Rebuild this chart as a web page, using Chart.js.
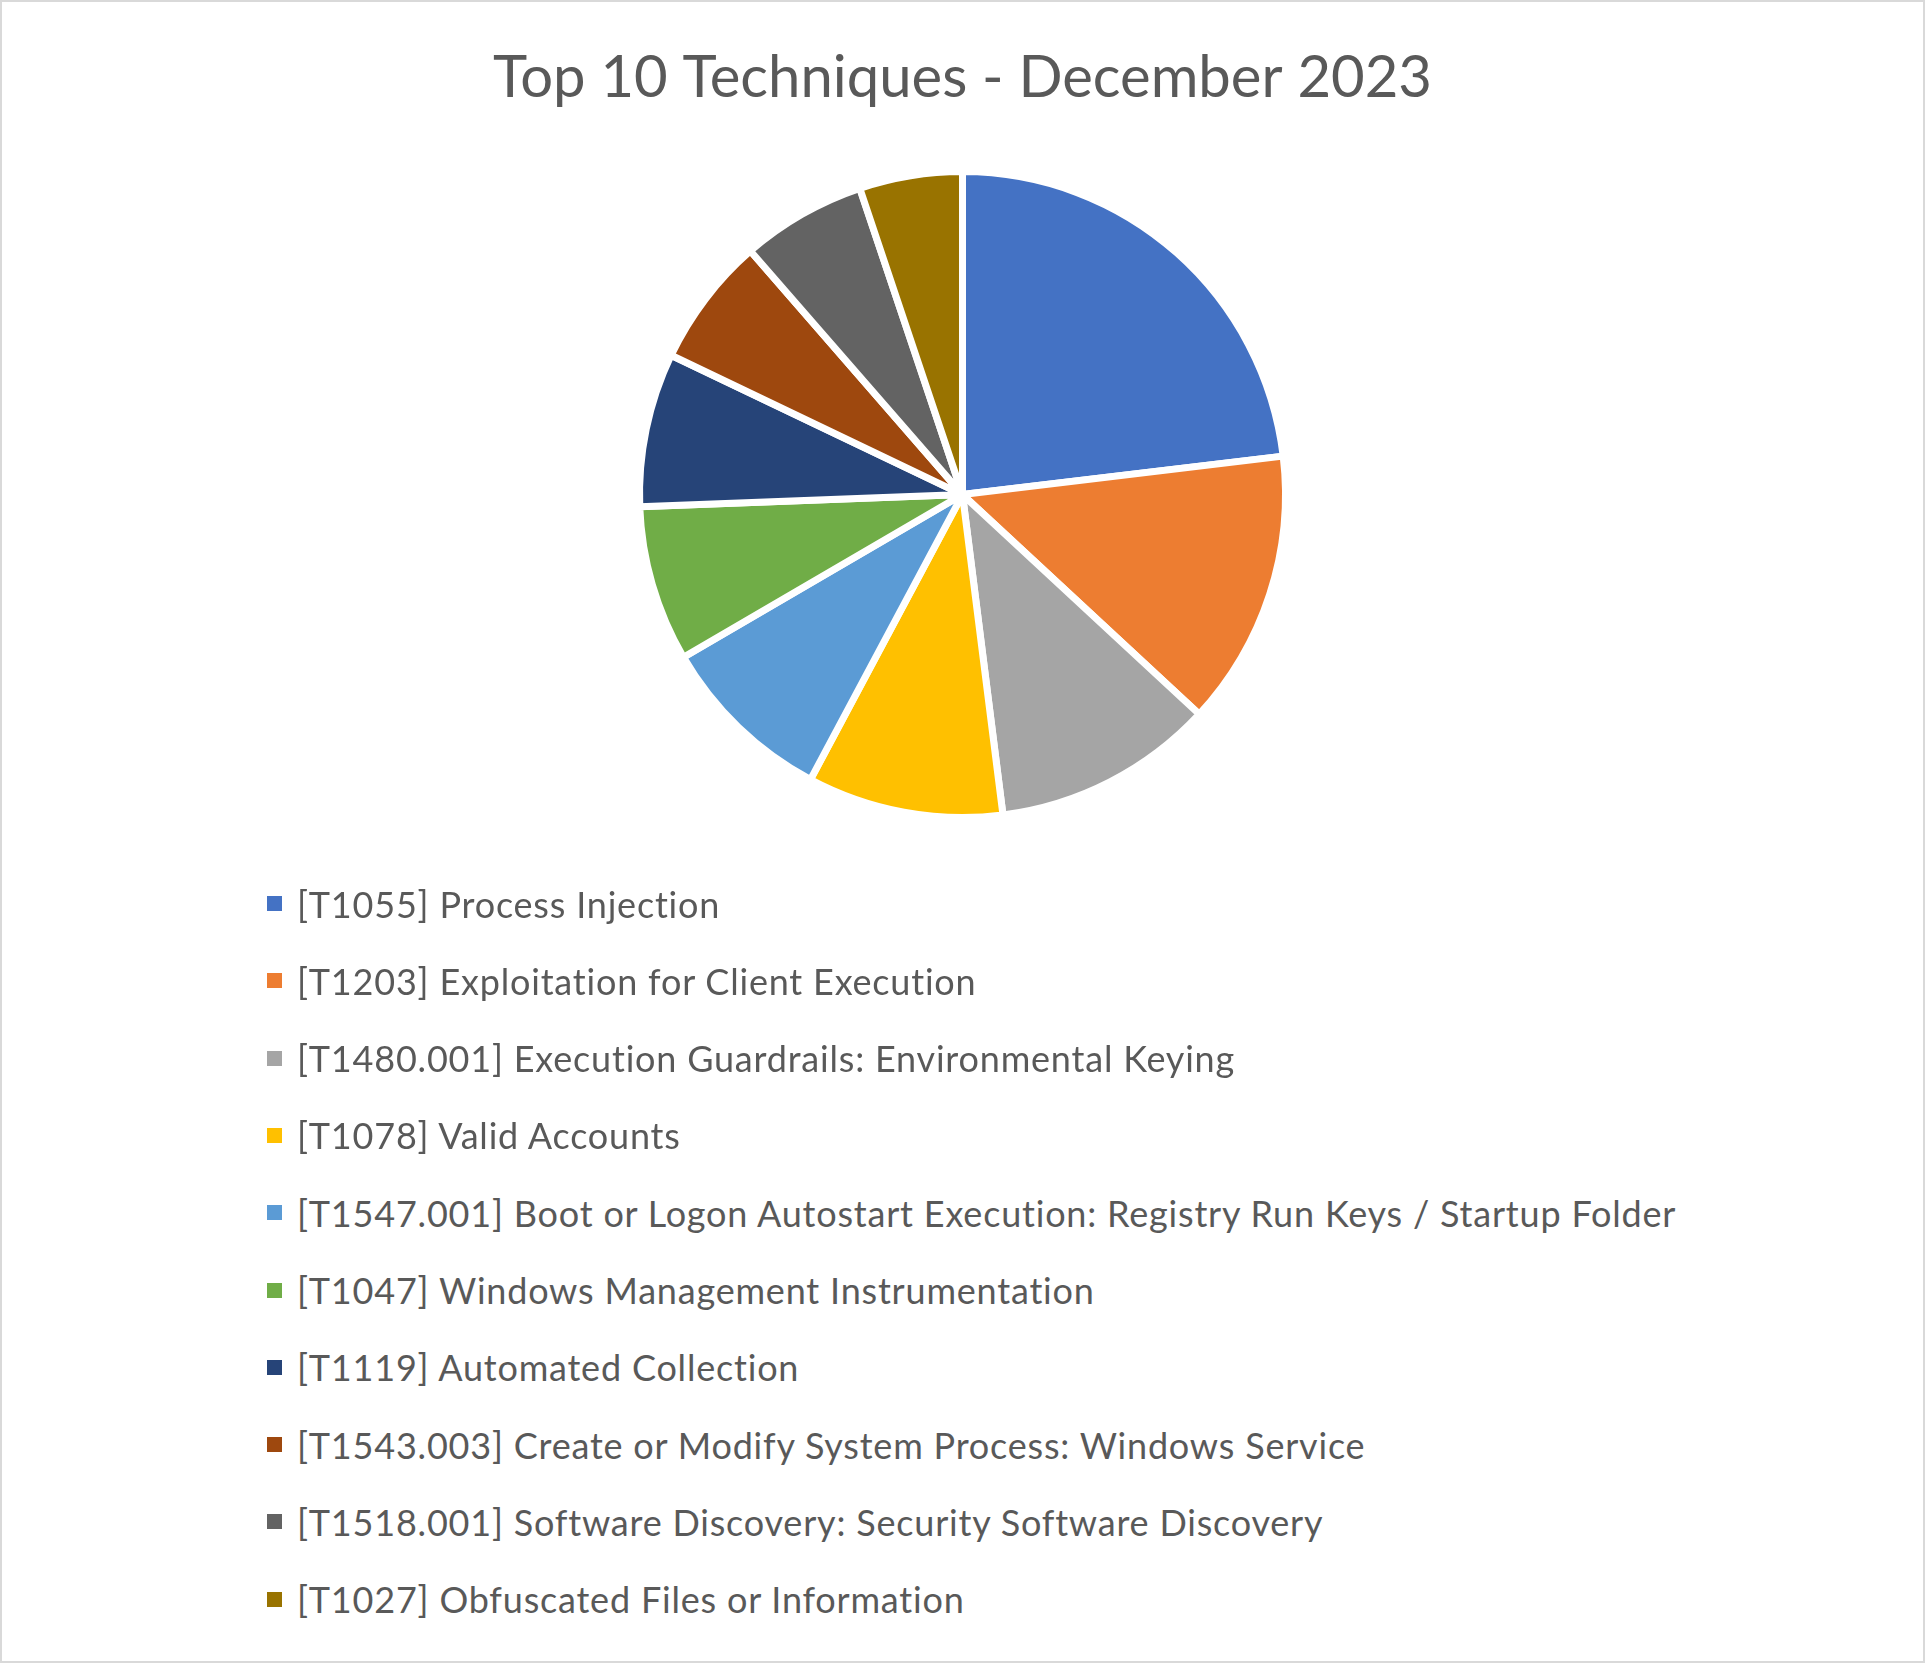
<!DOCTYPE html>
<html>
<head>
<meta charset="utf-8">
<script src="https://cdn.jsdelivr.net/npm/chart.js@4.4.1/dist/chart.umd.min.js"></script>
<style>
  html, body { margin: 0; padding: 0; background: #ffffff; }
  #wrap { position: relative; width: 1925px; height: 1663px; box-sizing: border-box; border: 2px solid #d9d9d9; background: #fff; overflow: hidden; }
  #chart { position: absolute; left: -2px; top: -2px; }
  #legend { position: absolute; left: 0; top: 0; }
  .row { position: absolute; left: 265px; height: 78px; display: flex; align-items: center; white-space: nowrap;
         font-family: Lato, "Noto Sans", sans-serif; font-size: 36px; letter-spacing: 0.8px; color: #595959; }
  .box { width: 15px; height: 15px; margin-right: 15px; flex: 0 0 auto; }
</style>
</head>
<body>
<div id="wrap">
  <canvas id="chart" width="1925" height="880"></canvas>
  <div id="legend"></div>
</div>
<script>
const chartTitle = "Top 10 Techniques - December 2023";
const techniques = [
  "[T1055] Process Injection",
  "[T1203] Exploitation for Client Execution",
  "[T1480.001] Execution Guardrails: Environmental Keying",
  "[T1078] Valid Accounts",
  "[T1547.001] Boot or Logon Autostart Execution: Registry Run Keys / Startup Folder",
  "[T1047] Windows Management Instrumentation",
  "[T1119] Automated Collection",
  "[T1543.003] Create or Modify System Process: Windows Service",
  "[T1518.001] Software Discovery: Security Software Discovery",
  "[T1027] Obfuscated Files or Information"
];
const shares = [23.1, 13.8, 11.1, 9.8, 8.8, 7.8, 7.7, 6.5, 6.25, 5.15];
const sliceColors = ["#4472C4", "#ED7D31", "#A5A5A5", "#FFC000", "#5B9BD5", "#70AD47", "#264478", "#9E480E", "#636363", "#997300"];

const chart = new Chart(document.getElementById("chart"), {
  type: "pie",
  data: {
    labels: techniques,
    datasets: [{
      data: shares,
      backgroundColor: sliceColors,
      borderColor: "#ffffff",
      borderWidth: 7,
      hoverBorderWidth: 7
    }]
  },
  options: {
    responsive: false,
    animation: false,
    devicePixelRatio: 1,
    radius: 323,
    layout: { padding: { top: 0, bottom: 18, left: 0, right: 0 } },
    plugins: {
      legend: { display: false },
      tooltip: { enabled: false },
      title: {
        display: true,
        text: chartTitle,
        color: "#595959",
        font: { family: "Lato", size: 58, weight: "normal", lineHeight: 1.2 },
        padding: { top: 43, bottom: 14.6 }
      }
    }
  }
});

const legendEl = document.getElementById("legend");
const items = Chart.overrides.pie.plugins.legend.labels.generateLabels(chart);
items.forEach((it, i) => {
  const row = document.createElement("div");
  row.className = "row";
  row.style.top = (905 - 42.5 + i * 77.3) + "px";
  const box = document.createElement("span");
  box.className = "box";
  box.style.background = it.fillStyle;
  const txt = document.createElement("span");
  txt.textContent = it.text;
  row.appendChild(box);
  row.appendChild(txt);
  legendEl.appendChild(row);
});
</script>
</body>
</html>
